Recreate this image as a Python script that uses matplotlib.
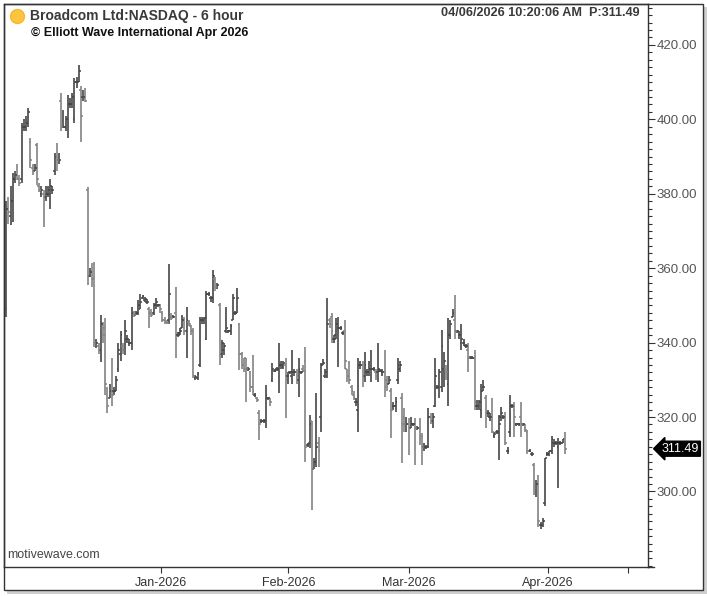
import numpy as np
import matplotlib
matplotlib.use('Agg')
import matplotlib.pyplot as plt
from matplotlib.lines import Line2D
from matplotlib.patches import Rectangle
from matplotlib.ticker import MultipleLocator, FixedLocator, FormatStrFormatter
import matplotlib.transforms as mtrans

plt.rcParams['font.family'] = ['Liberation Sans', 'DejaVu Sans']

# 6 hour bars (open, high, low, close)
opens = [349, 376, 374, 378, 384, 385, 384, 384, 398, 398, 399, 394, 387, 386, 393, 382, 380, 380, 379, 380,
         380, 381, 386, 390, 389, 405, 398, 398, 400, 404, 404, 400, 410, 410, 408, 406, 406, 381, 358, 359,
         357, 340, 339, 338, 344, 344, 326, 325, 327, 327, 327, 333, 337, 339, 338, 341, 340, 340, 348, 347.5,
         348, 349, 352, 351.5, 351, 349, 348, 348, 350, 350, 350, 348, 346, 345.5, 346, 347, 347, 348, 342, 342.5,
         344, 346, 343, 345.5, 344.5, 343, 330.5, 330.5, 334, 346, 346, 341, 353, 352, 352, 357, 355, 350, 337, 338,
         343, 343, 343, 346, 348, 348, 345, 337, 334, 336, 333, 332, 328, 326, 325, 321, 319, 319, 319, 325,
         325, 330, 332.5, 333, 333, 334, 333.5, 334, 331, 332, 331, 332, 332, 330, 332, 333, 335, 312.5, 313, 319,
         306, 308, 313, 320, 334, 331, 331, 346, 347, 341, 342, 344, 344, 342.5, 343, 333, 331, 328, 326, 324,
         322, 334, 334, 331, 332, 332, 333, 333, 332, 332, 332.5, 332, 332, 330, 329, 327, 323, 323, 330, 333,
         325, 320, 318, 318, 317, 318, 318, 317, 317, 315, 312, 312, 312, 320, 319, 323, 328, 328, 328, 333,
         333, 329, 342, 347, 346, 343, 342, 340, 340, 339, 338, 336, 336, 336, 323, 323, 322, 328, 325, 321,
         320, 319, 315, 316, 316, 320, 320, 320, 311, 316, 323, 322, 318, 318, 320, 318, 317, 316, 311, 310,
         307, 301, 302, 291, 291, 297, 310, 310, 311, 313, 313, 312, 313, 313, 314]
highs = [378, 379, 382, 385.6, 386, 388, 385, 399, 400, 401, 403, 395, 388, 388, 393.6, 383, 382, 381, 382, 382,
         384, 382, 391, 393.6, 391, 407, 402.5, 401, 406.5, 405.7, 407, 411, 411.4, 414.6, 409, 408, 408.4, 381.8, 360, 361.4,
         361.7, 341, 340, 347.4, 345.5, 346.6, 328, 329, 336, 328, 331, 340, 343, 340, 346, 342, 341, 349.6, 348.6, 348.5,
         351.5, 353, 352.8, 352.2, 351.6, 349.6, 349, 350.6, 352, 350.5, 350.5, 348.4, 347, 346, 361, 348, 347.5, 355, 342.8, 344,
         347.4, 347, 349.6, 346, 344.8, 344, 331.2, 332, 347, 347, 347, 354, 353.5, 352.5, 359.5, 357.5, 356, 350.6, 340.7, 340,
         349.6, 343.5, 345, 353, 348.5, 354.7, 345.3, 337.5, 336, 336, 333.5, 332.4, 336.7, 326.5, 325.5, 321.9, 319.5, 319.5, 328.6, 325.5,
         325.2, 334.5, 333, 333.5, 340, 335, 335, 336, 332, 332.5, 338, 333, 333, 336, 332.5, 334, 338.8, 313, 320.5, 319,
         309, 326.5, 314.6, 334.5, 335.5, 333, 352, 346.6, 348, 342, 346.6, 347, 344.5, 343, 346, 333, 335, 328.6, 327, 325,
         336, 335, 335, 337.5, 333, 335, 338, 333.5, 333, 340, 333, 333, 338, 331, 331, 327.8, 324, 325.4, 336, 335,
         326.5, 322.4, 320, 319.7, 320, 318.5, 319.7, 317.5, 319.7, 315.7, 313, 312.5, 322.4, 321, 321, 336, 328.5, 333, 343.4, 337.5,
         334, 346.6, 346, 349, 352.8, 343.5, 343, 345, 341, 339.5, 340, 336.5, 336.5, 338, 324.5, 324.5, 329, 330, 326, 322,
         321, 325, 316, 316.5, 320.5, 322.7, 320.5, 321.4, 312, 326, 323.5, 324, 318.5, 318.5, 324, 318.5, 318, 316.5, 311.5, 310.5,
         307.6, 303, 304.4, 291.8, 293, 309, 310.5, 311, 315, 314, 313.5, 314.4, 313.5, 314, 316]
lows = [347, 372, 371.6, 372.4, 383, 383.7, 382, 383, 397, 397, 398, 387, 385, 386, 382.4, 380.5, 379, 371, 378, 379,
        376, 380, 385, 386, 388, 397, 397.7, 397, 395, 403, 403, 399, 408.4, 410, 394, 405, 404.7, 355.5, 357.6, 355,
        338.8, 338.5, 337, 334.8, 340, 326, 321, 325, 323, 326, 327, 332, 335, 337, 336.7, 340, 339, 338, 347, 347.5,
        347.4, 349, 351.8, 350.8, 350.5, 344, 347, 347.4, 349, 349.5, 348, 345.5, 345, 345, 345, 346, 346.5, 336, 341.5, 342,
        344, 342, 336, 344.5, 342, 330.5, 330, 330, 333.5, 345, 345, 340.7, 352.5, 351, 350.6, 354, 354.5, 334, 336, 336.7,
        342.6, 342.5, 342, 346, 347.5, 348, 332.6, 333, 332, 324, 332.5, 326.7, 326, 325.5, 324, 313.8, 318.5, 318.5, 317, 324.5,
        323, 329.4, 332, 332.5, 326.5, 333, 333, 319.7, 329, 331.5, 329, 331, 329, 325.4, 331.5, 332, 308, 312, 311.7, 295,
        306, 306.6, 306.6, 316, 334, 330.5, 330.5, 344, 340, 340, 341, 333.5, 343.5, 342, 333, 329.4, 329, 326, 324.5, 323,
        316, 333, 328, 329.4, 331, 331, 329.4, 332.5, 330, 329.4, 332, 331, 325.4, 327, 329, 314.4, 322, 321.4, 329, 332,
        307.6, 316, 316, 309.8, 317, 317.5, 307, 316.5, 312.5, 307, 311, 311.5, 311.7, 318, 317, 322.7, 327.5, 325, 326.7, 328,
        330, 323, 341, 347, 341, 342.5, 341, 338, 339, 338.5, 332, 335.5, 335.5, 322, 322, 322, 319.7, 327, 317, 320,
        319, 315.7, 314.5, 315.5, 308.5, 319, 319.5, 312.5, 310, 314.6, 322.5, 314.6, 317.5, 317.5, 314.6, 317.5, 316, 310, 310.5, 309.5,
        299, 298.5, 290.5, 290, 290.5, 296, 309.5, 309.5, 310, 312, 312.5, 301, 312.5, 313, 310]
closes = [376, 375, 378, 384, 385, 384, 383, 398, 398, 399, 402, 389, 386, 387, 384, 381, 381, 379, 380, 381,
          382, 381, 390, 389, 389, 398, 398, 400, 404, 404, 406, 410, 410, 413, 401, 406, 405, 358, 359, 357,
          340, 340, 338, 345, 342, 329, 323, 327, 326, 327, 330, 338, 342, 338, 343, 341, 340, 348, 347.5, 348,
          350, 351, 352.4, 351.6, 351, 348, 347.5, 350, 351, 350, 349, 346, 345.5, 345.2, 353, 346.5, 347, 341, 342, 343,
          346, 343, 346, 345, 343, 331, 330.8, 331.5, 346, 346, 346.5, 353, 353, 352, 358, 355, 355.5, 337, 340, 339,
          344, 343, 344.5, 352, 348, 352, 337, 334, 333, 333, 333, 328, 327, 326, 324.5, 318, 319, 319, 326, 325,
          324, 333, 332.5, 333, 334, 334, 334.5, 330, 331, 332, 332, 332, 331, 333, 332, 332.5, 312, 312.5, 318, 306,
          308, 312, 311, 334, 334.5, 332, 345, 345, 343, 341, 345, 344, 344, 342.5, 335, 331, 330, 327, 325, 324,
          334, 334, 331, 334, 332, 333, 333, 333, 331, 333, 332.5, 332, 328, 328, 330, 322, 323, 324, 334, 334,
          318, 318, 318, 317, 318, 318, 317, 317, 314, 312, 312, 312, 320, 319, 320, 331, 328, 332, 339, 335,
          332, 342, 345, 348, 343, 343, 342, 341, 340, 339, 336, 336, 336, 324, 323, 324, 327, 328, 321, 321,
          320, 316, 315.5, 316, 318, 321, 320, 313, 311, 323, 323, 320, 318, 318, 318, 318, 316.5, 311, 311, 310,
          301, 302, 292, 291, 292, 309, 310, 311, 314, 313, 313, 313, 313, 314, 311.49]

month_ticks = [70.4, 128.3, 183.1, 246.3, 282.6]
month_labels = ['Jan-2026', 'Feb-2026', 'Mar-2026', 'Apr-2026', '']
last_price = 311.49

W, H = 707, 596
fig = plt.figure(figsize=(W / 100, H / 100), dpi=100)


def fx(px):
    return px / W


def fy(py):
    return 1 - py / H


# outer frame with a soft shadow (drawn under the axes)
fig.add_artist(Rectangle((fx(7), fy(594)), fx(700), fy(7) - fy(594), transform=fig.transFigure,
                         facecolor='#cfcfcf', edgecolor='none', zorder=-3))
fig.add_artist(Rectangle((fx(4), fy(590)), fx(699), fy(4) - fy(590), transform=fig.transFigure,
                         facecolor='white', edgecolor='#333333', linewidth=1.0, zorder=-2))

ax = fig.add_axes([fx(4), fy(567), fx(648) - fx(4), fy(4) - fy(567)])
ax.set_facecolor('none')

x = np.arange(len(closes))
o = np.array(opens)
c = np.array(closes)
col = np.where(c >= o, '#454545', '#838383')

ax.vlines(x, lows, highs, colors=col, linewidth=1.2)
ax.hlines(o, x - 0.8, x, colors=col, linewidth=1.1)
ax.hlines(c, x, x + 0.8, colors=col, linewidth=1.1)

ax.set_xlim(-1, 291.8)
ax.set_ylim(279.7, 431)

ax.yaxis.tick_right()
ax.yaxis.set_major_locator(FixedLocator(range(300, 421, 20)))
ax.yaxis.set_minor_locator(MultipleLocator(2))
ax.yaxis.set_major_formatter(FormatStrFormatter('%.2f'))
ax.tick_params(axis='y', which='major', length=5, width=0.8, pad=1, labelsize=9.5,
               labelcolor='#555555', color='#333333', direction='out')
ax.tick_params(axis='y', which='minor', length=3, width=0.8, color='#333333', direction='out')

ax.set_xticks(month_ticks)
ax.set_xticklabels(month_labels)
ax.tick_params(axis='x', length=4, width=0.8, pad=3, labelsize=9,
               labelcolor='#333333', color='#333333', direction='out')

for s in ax.spines.values():
    s.set_color('#333333')
    s.set_linewidth(1.0)

fig.add_artist(Line2D([fx(648), fx(654)], [fy(567), fy(567)], transform=fig.transFigure,
                      color='#333333', linewidth=1.0))

# last price tag
trans = mtrans.blended_transform_factory(ax.transAxes, ax.transData)
ax.text(1.021, last_price, '311.49', transform=trans, color='white', fontsize=9,
        va='center', ha='left', clip_on=False,
        bbox=dict(boxstyle='larrow,pad=0.12', facecolor='black', edgecolor='black'))

# header texts
fig.add_artist(Line2D([fx(17)], [fy(16)], marker='o', markersize=10, color='#fdc43f',
                      markeredgecolor='#f5b82e', transform=fig.transFigure))
fig.text(fx(30), fy(16), 'Broadcom Ltd:NASDAQ - 6 hour', fontsize=10, fontweight='bold',
         color='#3a3a3a', va='center', ha='left')
fig.text(fx(31), fy(33), '\u00a9 Elliott Wave International Apr 2026', fontsize=9,
         fontweight='bold', color='#111111', va='center', ha='left')
fig.text(fx(640), fy(13), '04/06/2026 10:20:06 AM  P:311.49', fontsize=9.1, fontweight='bold',
         color='#3a3a3a', va='center', ha='right')
fig.text(fx(7), fy(555), 'motivewave.com', fontsize=9, color='#444444', va='center', ha='left')

fig.savefig('out.png', dpi=100)
